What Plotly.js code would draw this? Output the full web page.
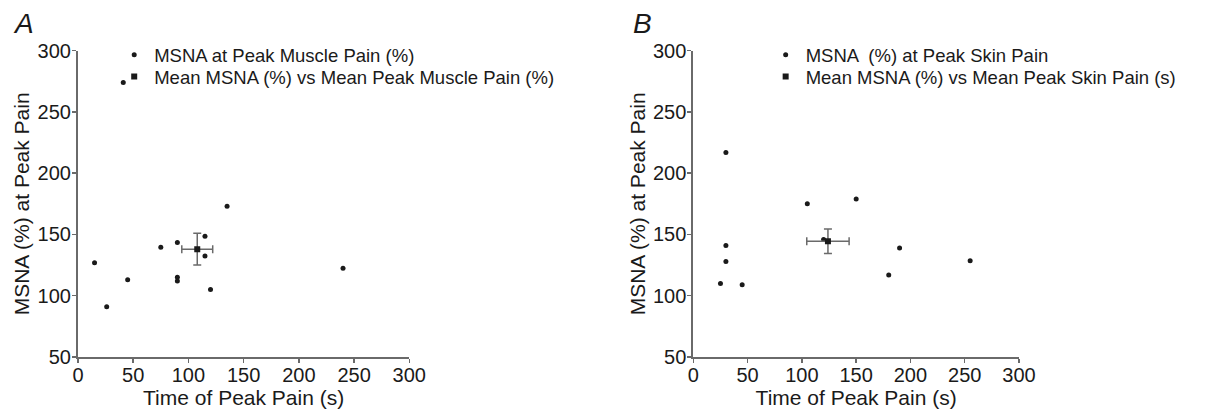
<!DOCTYPE html>
<html>
<head>
<meta charset="utf-8">
<script src="https://cdn.plot.ly/plotly-3.0.1.min.js"></script>
<style>html,body{margin:0;padding:0;background:#fff;}#chart{width:1228px;height:411px;}</style>
</head>
<body>
<div id="chart"></div>
<script>
// Panel A: muscle pain
const muscleTime = [41, 15, 26, 45, 75, 90, 90, 90, 115, 115, 120, 135, 240];
const muscleMSNA = [274, 127, 91, 113, 139.5, 143.5, 115, 112, 148.5, 132.5, 105, 173, 122.5];
const muscleMeanTime = [108];
const muscleMeanMSNA = [138];
const muscleSEMTime = [14];
const muscleSEMMSNA = [13];

// Panel B: skin pain
const skinTime = [30, 30, 30, 25, 45, 105, 150, 120, 190, 180, 255];
const skinMSNA = [217, 141, 128, 110, 109, 175, 179, 146, 139, 117, 128.5];
const skinMeanTime = [124];
const skinMeanMSNA = [144.5];
const skinSEMTime = [19.5];
const skinSEMMSNA = [10];

const legendA = ['MSNA at Peak Muscle Pain (%)', 'Mean MSNA (%) vs Mean Peak Muscle Pain (%)'];
const legendB = ['MSNA  (%) at Peak Skin Pain', 'Mean MSNA (%) vs Mean Peak Skin Pain (s)'];
const xTitle = 'Time of Peak Pain (s)';
const yTitle = 'MSNA (%) at Peak Pain';
const panelLabels = ['A', 'B'];

const FONT = 'Arial, "Liberation Sans", sans-serif';
const dark = '#1a1a1a';
const axisGray = '#6a6a6a';

const traces = [
  {x: muscleTime, y: muscleMSNA, type: 'scatter', mode: 'markers', name: legendA[0],
   marker: {symbol: 'circle', size: 5, color: dark}, xaxis: 'x', yaxis: 'y', legend: 'legend'},
  {x: muscleMeanTime, y: muscleMeanMSNA, type: 'scatter', mode: 'markers', name: legendA[1],
   marker: {symbol: 'square', size: 6, color: dark}, xaxis: 'x', yaxis: 'y', legend: 'legend3',
   error_x: {type: 'data', array: muscleSEMTime, color: axisGray, thickness: 1.5, width: 4},
   error_y: {type: 'data', array: muscleSEMMSNA, color: axisGray, thickness: 1.5, width: 4}},
  {x: skinTime, y: skinMSNA, type: 'scatter', mode: 'markers', name: legendB[0],
   marker: {symbol: 'circle', size: 5, color: dark}, xaxis: 'x2', yaxis: 'y2', legend: 'legend2'},
  {x: skinMeanTime, y: skinMeanMSNA, type: 'scatter', mode: 'markers', name: legendB[1],
   marker: {symbol: 'square', size: 6, color: dark}, xaxis: 'x2', yaxis: 'y2', legend: 'legend4',
   error_x: {type: 'data', array: skinSEMTime, color: axisGray, thickness: 1.5, width: 4},
   error_y: {type: 'data', array: skinSEMMSNA, color: axisGray, thickness: 1.5, width: 4}}
];

function xAxis(domain, anchor) {
  return {domain: domain, anchor: anchor, range: [0, 300], dtick: 50, tick0: 0,
    showline: true, linecolor: axisGray, linewidth: 2, ticks: 'outside', ticklen: 4,
    tickcolor: axisGray, tickwidth: 1.5, showgrid: false, zeroline: false,
    ticklabelstandoff: -5,
    tickfont: {family: FONT, size: 20, color: dark},
    title: {text: xTitle, font: {family: FONT, size: 21, color: dark}, standoff: 0}};
}
function yAxis(anchor) {
  return {domain: [0.1314, 0.8766], anchor: anchor, range: [50, 300], dtick: 50, tick0: 50,
    showline: true, linecolor: axisGray, linewidth: 2, ticks: 'outside', ticklen: 4,
    tickcolor: axisGray, tickwidth: 1.5, showgrid: false, zeroline: false,
    ticklabelstandoff: -3,
    tickfont: {family: FONT, size: 20, color: dark},
    title: {text: yTitle, font: {family: FONT, size: 21, color: dark}, standoff: 2}};
}

const legendCommon = {bgcolor: 'rgba(0,0,0,0)', font: {family: FONT, size: 18.5, color: dark},
  xanchor: 'left', yanchor: 'top', itemwidth: 30, tracegroupgap: 0};

const layout = {
  width: 1228, height: 411,
  margin: {l: 0, r: 0, t: 0, b: 0},
  paper_bgcolor: '#fff', plot_bgcolor: '#fff',
  showlegend: true,
  xaxis: xAxis([0.0635, 0.3333], 'y'),
  yaxis: yAxis('x'),
  xaxis2: xAxis([0.5646, 0.8298], 'y2'),
  yaxis2: yAxis('x2'),
  legend: Object.assign({x: 0.093, y: 0.912}, legendCommon),
  legend3: Object.assign({x: 0.093, y: 0.859}, legendCommon),
  legend2: Object.assign({x: 0.6235, y: 0.912}, legendCommon),
  legend4: Object.assign({x: 0.6235, y: 0.859}, legendCommon),
  annotations: [
    {text: panelLabels[0], xref: 'paper', yref: 'paper', x: 0.009, y: 0.985, xanchor: 'left', yanchor: 'top',
     showarrow: false, font: {family: FONT, size: 28, color: dark, style: 'italic'}},
    {text: panelLabels[1], xref: 'paper', yref: 'paper', x: 0.5135, y: 0.985, xanchor: 'left', yanchor: 'top',
     showarrow: false, font: {family: FONT, size: 28, color: dark, style: 'italic'}}
  ]
};

Plotly.newPlot('chart', traces, layout, {displayModeBar: false, staticPlot: true});
</script>
</body>
</html>
